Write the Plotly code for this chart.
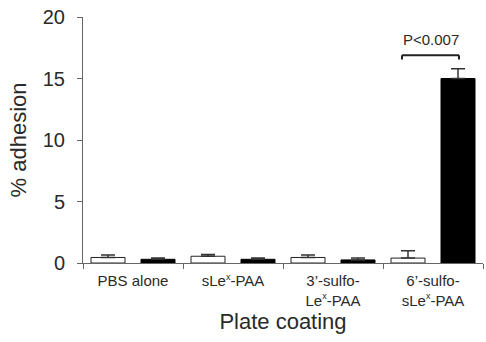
import plotly.graph_objects as go

SUPX = "<sup><span style='font-size:9px'>x</span></sup>"
categories = ["PBS alone", "sLe" + SUPX + "-PAA", "3’-sulfo-<br>Le" + SUPX + "-PAA", "6’-sulfo-<br>sLe" + SUPX + "-PAA"]
white_vals = [0.45, 0.55, 0.45, 0.4]
white_err = [0.2, 0.15, 0.2, 0.6]
black_vals = [0.3, 0.3, 0.25, 15.0]
black_err = [0.1, 0.1, 0.15, 0.8]
y_ticks = [0, 5, 10, 15, 20]

font_fam = "Liberation Sans, Arial, sans-serif"
txt = "#2a2a2a"
axc = "#666666"

fig = go.Figure()
fig.add_trace(go.Bar(
    x=categories, y=white_vals, marker=dict(color="white", line=dict(color="#222", width=1)),
    error_y=dict(type="data", array=white_err, arrayminus=[0]*4, symmetric=False,
                 color="#333", thickness=1.5, width=7),
    showlegend=False))
fig.add_trace(go.Bar(
    x=categories, y=black_vals, marker=dict(color="black", line=dict(color="black", width=1)),
    error_y=dict(type="data", array=black_err, arrayminus=[0]*4, symmetric=False,
                 color="#333", thickness=1.5, width=7),
    showlegend=False))

# significance bracket
y_br = 16.9
x0b, x1b = 2.69, 3.26
fig.add_shape(type="line", x0=x0b, x1=x1b, y0=y_br, y1=y_br, xref="x", yref="y",
              line=dict(color="#222", width=2))
fig.add_shape(type="line", x0=x0b, x1=x0b, y0=y_br, y1=y_br - 0.35, xref="x", yref="y",
              line=dict(color="#222", width=2))
fig.add_shape(type="line", x0=x1b, x1=x1b, y0=y_br, y1=y_br - 0.35, xref="x", yref="y",
              line=dict(color="#222", width=2))
fig.add_annotation(x=(x0b + x1b) / 2, y=y_br + 0.45, xref="x", yref="y", text="P<0.007",
                   showarrow=False, yanchor="bottom",
                   font=dict(size=15, color=txt, family=font_fam))

fig.update_layout(
    width=486, height=342, margin=dict(l=83, r=3, t=17, b=79),
    paper_bgcolor="white", plot_bgcolor="white",
    barmode="group", bargap=0.0, bargroupgap=0.32,
    font=dict(family=font_fam, color=txt),
)
fig.update_xaxes(
    type="category", tickson="boundaries", ticks="outside", ticklen=5, tickcolor=axc,
    showline=True, linecolor=axc, linewidth=1, showgrid=False, automargin=False,
    ticklabelstandoff=4,
    tickfont=dict(size=15, color=txt), tickangle=0,
    title=dict(text="Plate coating", font=dict(size=22, color=txt), standoff=6),
)
fig.update_yaxes(
    range=[0, 20], tickvals=y_ticks, ticks="outside", ticklen=5, tickcolor=axc,
    showline=True, linecolor=axc, linewidth=1, showgrid=False, zeroline=False,
    automargin=False, ticklabelstandoff=8,
    tickfont=dict(size=20, color=txt),
    title=dict(text="% adhesion", font=dict(size=22, color=txt), standoff=10),
)
fig.write_html("out.html", config={"displayModeBar": False},
               post_script="document.body.style.margin='0px';")
